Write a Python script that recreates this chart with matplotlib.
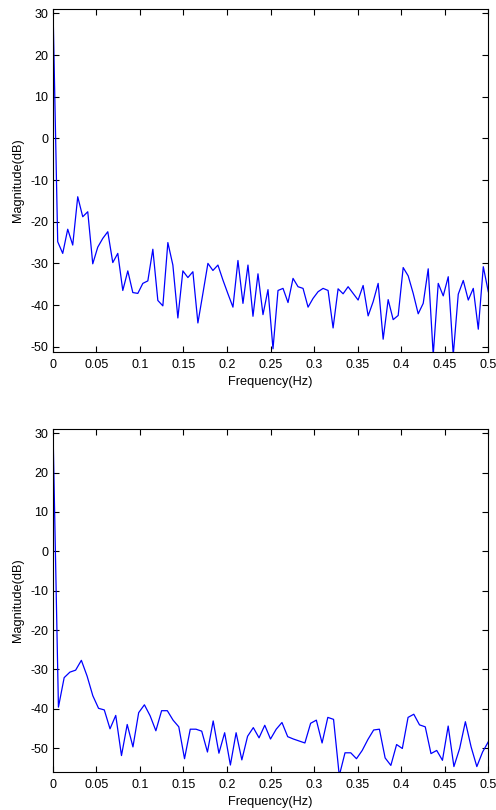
import numpy as np
import matplotlib
matplotlib.use("Agg")
import matplotlib.pyplot as plt

plt.rcParams['font.family'] = ['Liberation Sans', 'DejaVu Sans']

# ---- data ----
n_top = 174          # FFT length of upper spectrum
n_bot = 152          # FFT length of lower spectrum

mag_top = [35.0, -24.8, -27.6, -21.8, -25.6, -14.0, -18.8, -17.6, -30.1, -26.1,
           -24.0, -22.4, -29.8, -27.6, -36.5, -31.8, -37.0, -37.2, -34.8, -34.2,
           -26.6, -38.9, -40.2, -25.0, -30.4, -43.1, -31.8, -33.4, -32.0, -44.3,
           -37.2, -30.0, -31.7, -30.4, -34.0, -37.3, -40.5, -29.3, -39.6, -30.4,
           -42.7, -32.5, -42.3, -36.3, -50.5, -36.5, -36.0, -39.4, -33.6, -35.6,
           -36.0, -40.5, -38.4, -36.8, -36.0, -36.5, -45.5, -36.1, -37.3, -35.6,
           -37.2, -38.8, -35.3, -42.6, -39.2, -34.8, -48.2, -38.7, -43.5, -42.5,
           -31.0, -33.0, -37.2, -42.1, -39.6, -31.3, -52.0, -34.8, -37.8, -33.2,
           -52.0, -37.4, -34.1, -38.8, -36.0, -45.8, -30.8, -36.8]

mag_bot = [35.0, -39.6, -32.1, -30.7, -30.2, -27.7, -31.7, -36.7, -39.9, -40.3,
           -45.1, -41.7, -51.9, -44.0, -49.7, -41.0, -39.0, -41.8, -45.6, -40.5,
           -40.5, -42.9, -44.6, -52.7, -45.2, -45.2, -45.7, -51.0, -43.1, -51.3,
           -46.1, -54.3, -46.1, -53.0, -47.0, -44.8, -47.4, -44.2, -47.7, -45.2,
           -43.5, -47.1, -47.7, -48.2, -48.7, -43.7, -42.9, -48.7, -42.2, -42.7,
           -57.0, -51.2, -51.2, -52.7, -50.6, -47.8, -45.4, -45.2, -52.5, -54.4,
           -49.1, -50.1, -42.2, -41.4, -44.1, -44.6, -51.4, -50.6, -53.1, -44.4,
           -54.7, -50.1, -43.3, -49.7, -54.7, -51.0, -48.4]

freq_top = np.arange(len(mag_top)) / n_top
freq_bot = np.arange(len(mag_bot)) / n_bot

xticks = [0, 0.05, 0.1, 0.15, 0.2, 0.25, 0.3, 0.35, 0.4, 0.45, 0.5]
xticklabels = ["0", "0.05", "0.1", "0.15", "0.2", "0.25", "0.3", "0.35", "0.4", "0.45", "0.5"]
yticks = [-50, -40, -30, -20, -10, 0, 10, 20, 30]
yticklabels = ["-50", "-40", "-30", "-20", "-10", "0", "10", "20", "30"]

W, H = 496, 810
fig = plt.figure(figsize=(W / 100, H / 100), dpi=100)
fig.patch.set_facecolor('white')

def make_axes(top_px, bottom_px):
    left_px, right_px = 52.7, 488.3
    return fig.add_axes([left_px / W, 1 - bottom_px / H,
                         (right_px - left_px) / W, (bottom_px - top_px) / H])

ax1 = make_axes(9.3, 351.7)
ax2 = make_axes(429.3, 771.7)

for ax, f, m, ylim in [(ax1, freq_top, mag_top, (-51.2, 31.0)),
                       (ax2, freq_bot, mag_bot, (-56.0, 31.0))]:
    ax.plot(f, m, color=(0.0, 0.0, 1.0), linewidth=0.9)
    ax.set_xlim(0, 0.5)
    ax.set_ylim(*ylim)
    ax.set_xticks(xticks)
    ax.set_xticklabels(xticklabels)
    ax.set_yticks(yticks)
    ax.set_yticklabels(yticklabels)
    ax.tick_params(direction='in', length=4, width=0.8, labelsize=9,
                   top=True, right=True, colors='black', pad=3)
    ax.tick_params(axis='x', pad=5)
    for s in ax.spines.values():
        s.set_linewidth(0.8)
        s.set_color('black')
    ax.set_xlabel('Frequency(Hz)', fontsize=9.2, labelpad=3.5)
    ax.set_ylabel('Magnitude(dB)', fontsize=9.2, labelpad=5)

fig.savefig('out.png', dpi=100, facecolor='white')
